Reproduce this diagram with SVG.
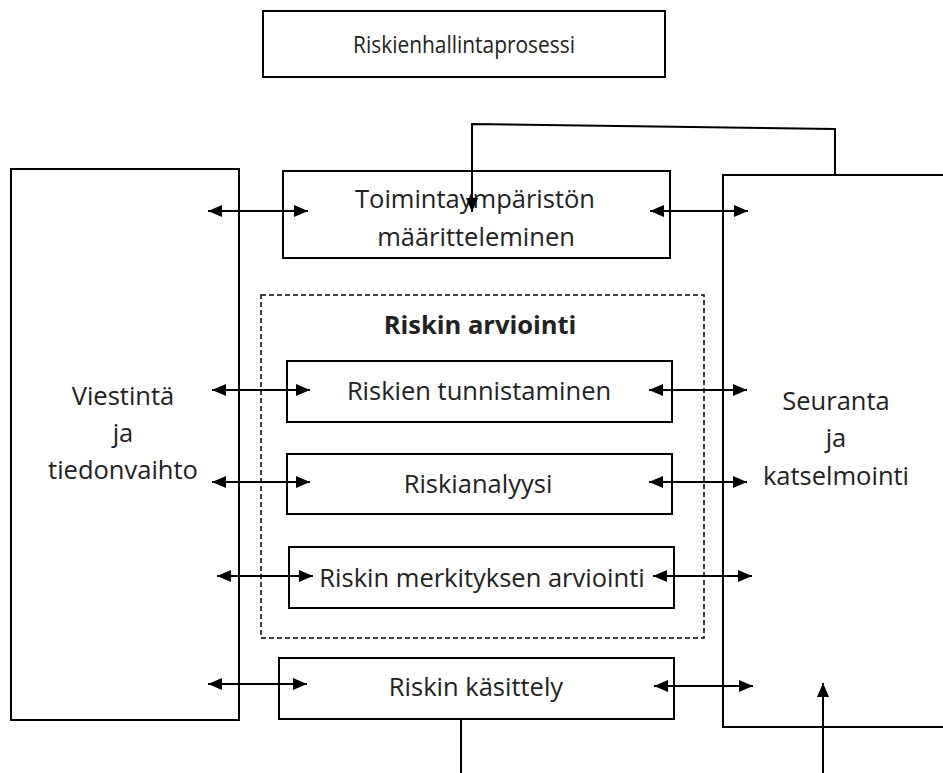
<svg xmlns="http://www.w3.org/2000/svg" width="943" height="773" viewBox="0 0 943 773">
<defs>
<marker id="ah" viewBox="0 0 14 12" refX="14" refY="6" markerWidth="14" markerHeight="12" markerUnits="userSpaceOnUse" orient="auto-start-reverse">
<path d="M0,0 L14,6 L0,12 Z" fill="#000"/>
</marker>
<style>
.box{fill:#fff;stroke:#000;stroke-width:2}
.dash{fill:none;stroke:#000;stroke-width:1.5;stroke-dasharray:5,3}
.t{font-family:"Open Sans","Noto Sans","Liberation Sans",sans-serif;font-size:25.5px;fill:#222;text-anchor:middle}
.s{font-size:23px}
.b{font-weight:bold}
.c{fill:none;stroke:#000;stroke-width:2}
.a{marker-start:url(#ah);marker-end:url(#ah)}
</style>
</defs>
<rect width="943" height="773" fill="#fff"/>
<g id="title"><rect class="box" x="263" y="11" width="402" height="66"/><text class="t s" x="464" y="53" textLength="222" lengthAdjust="spacingAndGlyphs">Riskienhallintaprosessi</text></g>
<g id="viestinta"><rect class="box" x="11" y="169" width="228" height="551"/><text class="t" x="123" y="405">Viestintä</text><text class="t" x="123" y="442">ja</text><text class="t" x="123" y="479">tiedonvaihto</text></g>
<g id="seuranta"><rect class="box" x="723" y="175" width="230" height="552"/><text class="t" x="836" y="410">Seuranta</text><text class="t" x="836" y="447">ja</text><text class="t" x="836" y="485">katselmointi</text></g>
<g id="toimintaymparisto"><rect class="box" x="283" y="171" width="387" height="87"/><text class="t" x="475" y="208">Toimintaympäristön</text><text class="t" x="476" y="246">määritteleminen</text></g>
<g id="arviointi"><rect class="dash" x="261" y="295" width="443" height="343"/><text class="t b" x="480" y="334">Riskin arviointi</text></g>
<g id="tunnistaminen"><rect class="box" x="287" y="361" width="385" height="61"/><text class="t" x="479" y="400">Riskien tunnistaminen</text></g>
<g id="analyysi"><rect class="box" x="287" y="454" width="385" height="60"/><text class="t" x="478" y="493">Riskianalyysi</text></g>
<g id="merkitys"><rect class="box" x="289" y="547" width="385" height="61"/><text class="t" x="482" y="587">Riskin merkityksen arviointi</text></g>
<g id="kasittely"><rect class="box" x="279" y="658" width="395" height="61"/><text class="t" x="476" y="696">Riskin käsittely</text></g>
<g id="connectors">
<line class="c a" x1="208" y1="211" x2="308" y2="211"/>
<line class="c a" x1="650" y1="211" x2="748" y2="211"/>
<line class="c a" x1="212" y1="390" x2="310" y2="390"/>
<line class="c a" x1="649" y1="390" x2="747" y2="390"/>
<line class="c a" x1="212" y1="482" x2="310" y2="482"/>
<line class="c a" x1="649" y1="482" x2="747" y2="482"/>
<line class="c a" x1="217" y1="576" x2="313" y2="576"/>
<line class="c a" x1="653" y1="576" x2="752" y2="576"/>
<line class="c a" x1="208" y1="684" x2="307" y2="684"/>
<line class="c a" x1="654" y1="686" x2="753" y2="686"/>
<polyline class="c" points="835,175 835,129 472,124 472,212" marker-end="url(#ah)"/>
<line class="c" x1="461" y1="719" x2="461" y2="773"/>
<line class="c" x1="823" y1="773" x2="823" y2="683" marker-end="url(#ah)"/>
</g>
</svg>
